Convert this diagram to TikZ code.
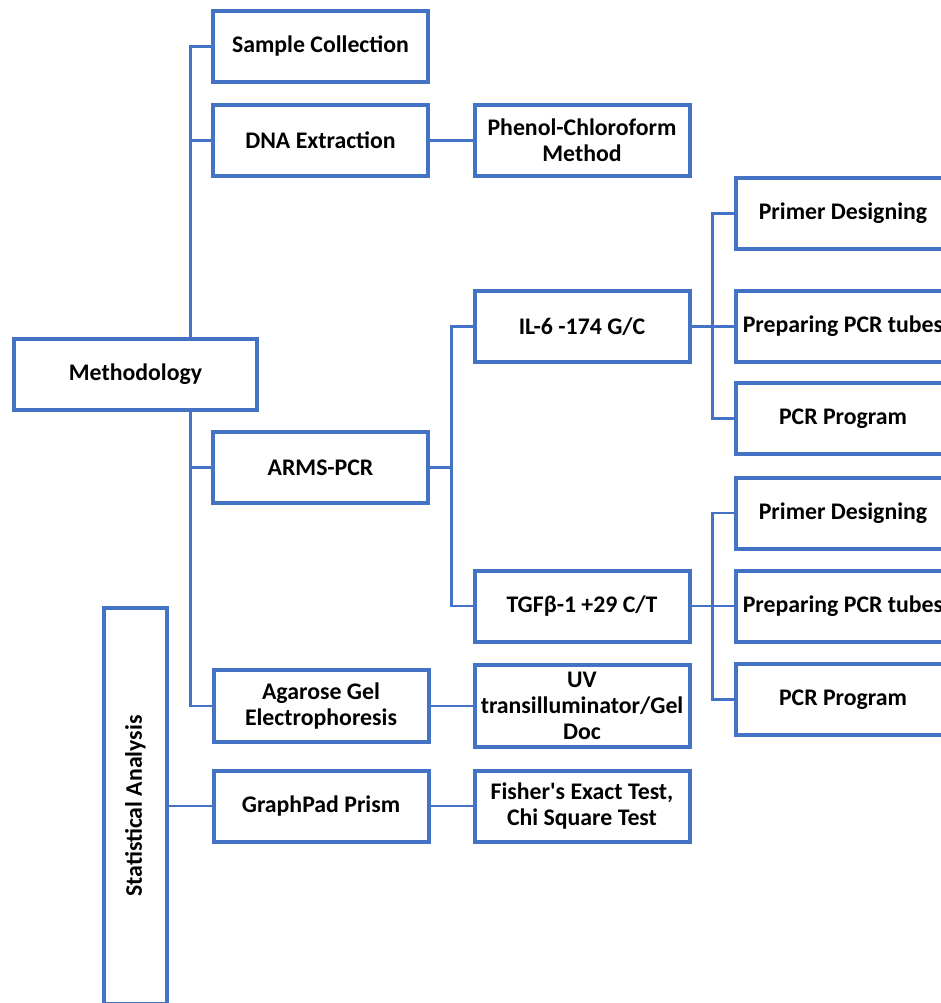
\documentclass[tikz,border=0pt]{standalone}
\usepackage{fontspec}
\setmainfont{Carlito}[Ligatures=TeXOff]
\usepackage{graphicx}
\definecolor{obl}{HTML}{4472C4}
\tikzset{
 box/.style={draw=obl, line width=4pt, fill=white, minimum width=215pt, minimum height=71pt, inner sep=0pt, align=center, font=\fontsize{23.8}{26}\selectfont\bfseries, text=black},
 conn/.style={draw=obl, line width=2.2pt},
}
\begin{document}
\begin{tikzpicture}[x=1pt,y=1pt]
\useasboundingbox (0,0) rectangle (941,-1003);
\clip (0,0) rectangle (941,-1003);
\node[box] (sample) at (320.5,-46.5) {Sample Collection};
\node[box] (dna) at (320.5,-140.5) {DNA Extraction};
\node[box] (phenol) at (582,-140.5) {Phenol-Chloroform\\Method};
\node[box, minimum width=243pt] (meth) at (135.5,-374.5) {Methodology};
\node[box] (il6) at (582,-326.5) {IL-6 -174 G/C};
\node[box] (arms) at (320.5,-467.5) {ARMS-PCR};
\node[box] (tgf) at (582,-606) {TGFβ-1 +29 C/T};
\node[box, minimum height=72pt] (agar) at (321,-706) {Agarose Gel\\Electrophoresis};
\node[box, minimum height=82pt] (uv) at (582,-706) {UV\\transilluminator/Gel\\Doc};
\node[box] (graph) at (321,-806) {GraphPad Prism};
\node[box] (fisher) at (582,-806) {Fisher's Exact Test,\\Chi Square Test};
\node[box] (p1) at (843,-213.5) {Primer Designing};
\node[box] (t1) at (843,-326.5) {Preparing PCR tubes};
\node[box] (r1) at (843,-418.5) {PCR Program};
\node[box] (p2) at (843,-513) {Primer Designing};
\node[box] (t2) at (843,-606) {Preparing PCR tubes};
\node[box] (r2) at (843,-699.5) {PCR Program};
\node[box, minimum width=63pt, minimum height=396pt] (stats) at (135.5,-806) {\rotatebox{90}{Statistical Analysis}};
\coordinate (tk) at (190.5,0);
\coordinate (ak) at (451.5,0);
\coordinate (bk) at (712.5,0);
\draw[conn] (sample.west) -| (tk |- meth.north);
\draw[conn] (tk |- meth.south) |- (agar.west);
\draw[conn] (tk |- dna.west) -- (dna.west);
\draw[conn] (tk |- arms.west) -- (arms.west);
\draw[conn] (dna.east) -- (phenol.west);
\draw[conn] (arms.east) -- (ak |- arms.east);
\draw[conn] (il6.west) -| (ak |- tgf.west) -- (tgf.west);
\draw[conn] (il6.east) -- (t1.west);
\draw[conn] (p1.west) -| (bk |- r1.west) -- (r1.west);
\draw[conn] (tgf.east) -- (t2.west);
\draw[conn] (p2.west) -| (bk |- r2.west) -- (r2.west);
\draw[conn] (agar.east) -- (uv.west);
\draw[conn] (stats.east) -- (graph.west);
\draw[conn] (graph.east) -- (fisher.west);
\end{tikzpicture}
\end{document}
